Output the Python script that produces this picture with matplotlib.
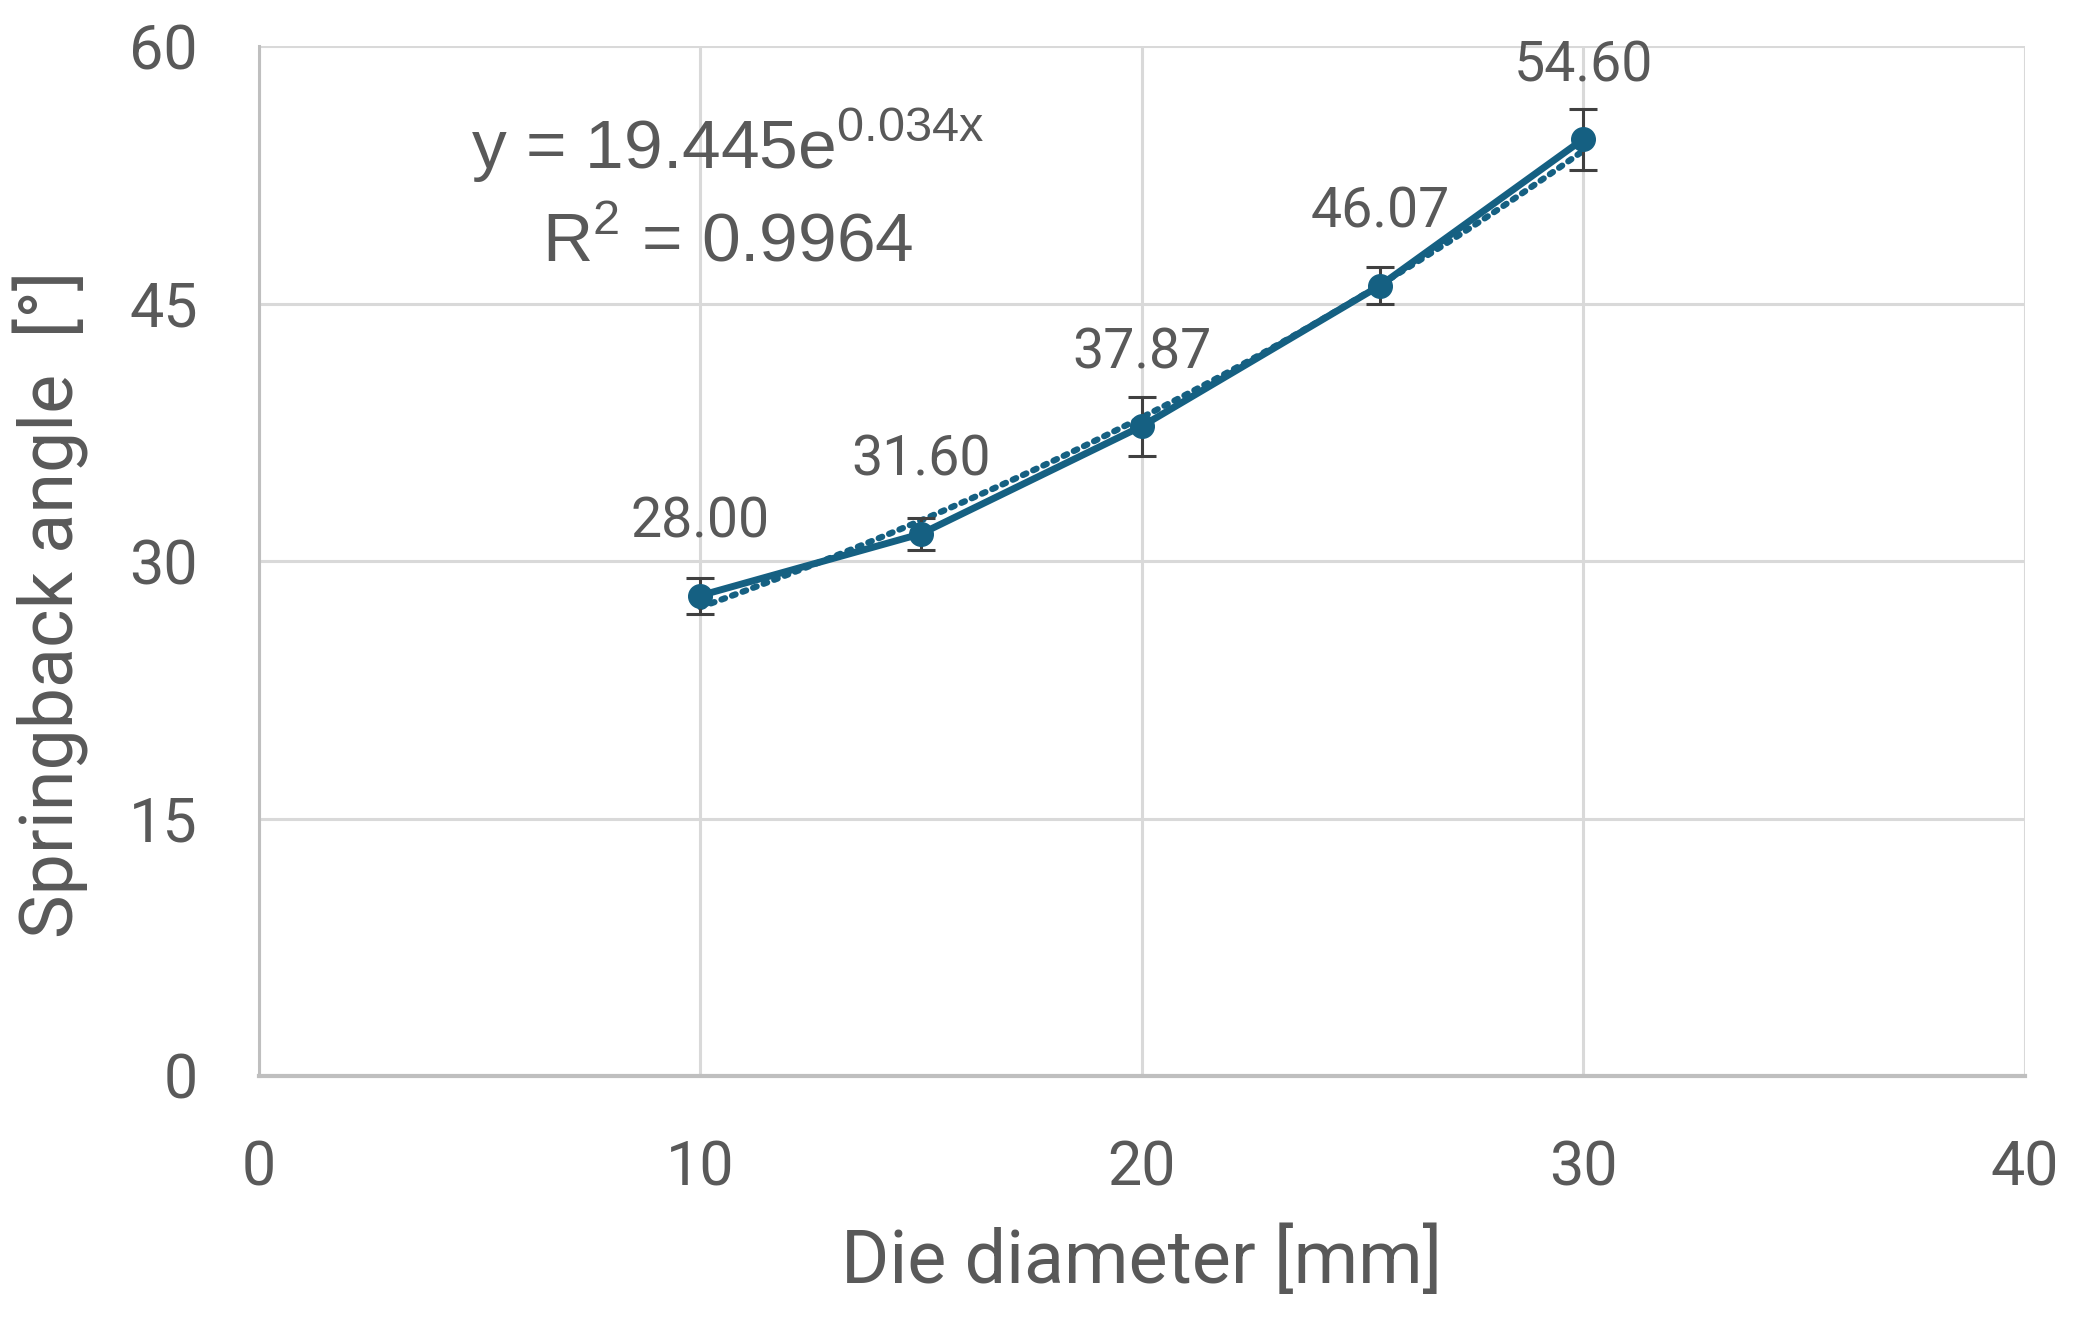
import numpy as np
import matplotlib
matplotlib.use("Agg")
import matplotlib.pyplot as plt

# data
die_diameter = [10, 15, 20, 25.4, 30]
springback = [28.00, 31.60, 37.87, 46.07, 54.60]
spring_err = [1.05, 0.93, 1.73, 1.09, 1.77]
value_labels = ["28.00", "31.60", "37.87", "46.07", "54.60"]

# exponential trendline as reported
fit_a = 19.445
fit_b = 0.034
fit_r2 = 0.9964

x_ticks = [0, 10, 20, 30, 40]
y_ticks = [0, 15, 30, 45, 60]

LINE = "#156082"
TEXT = "#595959"
GRID = "#d9d9d9"

plt.rcParams['font.family'] = ['Roboto', 'DejaVu Sans']

fig = plt.figure(figsize=(20.83, 13.17), dpi=100)
ax = fig.add_axes([0.1243, 0.183, 0.8477, 0.7817])

xs = np.linspace(min(die_diameter), max(die_diameter), 100)
ax.plot(xs, fit_a * np.exp(fit_b * xs), linestyle=(0, (0.6, 1.2)), color=LINE,
        linewidth=4.5, dash_capstyle='round', zorder=3)

ax.errorbar(die_diameter, springback, yerr=spring_err, color=LINE, linewidth=5,
            marker='o', markersize=17, ecolor="#404040", elinewidth=2.2,
            capsize=10, capthick=2.2, zorder=4)

for x, y, lab in zip(die_diameter, springback, value_labels):
    ax.annotate(lab, (x, y), xytext=(0, 53), textcoords='offset points',
                ha='center', va='center', fontsize=40, color=TEXT, zorder=5)

ax.text(10.62, 54.2, r"y = 19.445e$^{\mathregular{%.3f}\mathregular{x}}$" % fit_b,
        family='Liberation Sans', fontsize=50, color=TEXT, ha='center', va='center')
ax.text(10.62, 48.55, r"R$^{\mathregular{2}}$ = %.4f" % fit_r2,
        family='Liberation Sans', fontsize=50, color=TEXT, ha='center', va='center')

ax.set_xlim(0, 40)
ax.set_ylim(0, 60)
ax.set_xticks(x_ticks)
ax.set_yticks(y_ticks)
ax.grid(True, color=GRID, linewidth=2.2)
ax.set_axisbelow(True)
ax.tick_params(length=0, labelsize=44, labelcolor=TEXT)
ax.tick_params(axis='x', pad=46)
ax.tick_params(axis='y', pad=44)

for side in ['top', 'right']:
    ax.spines[side].set_visible(False)
ax.spines['left'].set_color("#bfbfbf")
ax.spines['left'].set_linewidth(2.2)
ax.spines['bottom'].set_color("#bfbfbf")
ax.spines['bottom'].set_linewidth(3)

ax.set_xlabel("Die diameter [mm]", fontsize=53, color=TEXT, va='center')
ax.xaxis.set_label_coords(0.5, -0.181)
ax.set_ylabel("Springback angle  [°]", fontsize=53, color=TEXT, va='center')
ax.yaxis.set_label_coords(-0.118, 0.458)

fig.savefig("out.png", dpi=100)
